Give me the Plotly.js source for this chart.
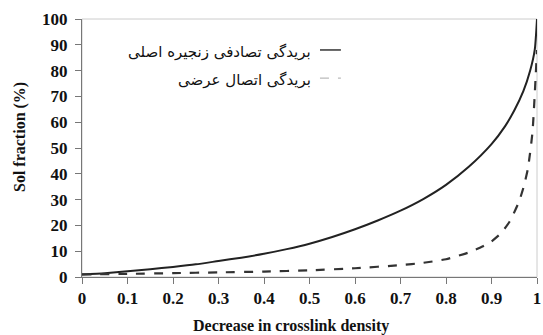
<!DOCTYPE html>
<html>
<head>
<meta charset="utf-8">
<script src="https://cdn.plot.ly/plotly-3.0.1.min.js"></script>
<style>html,body{margin:0;padding:0;background:#fff}#chart{width:543px;height:335px}</style>
</head>
<body>
<div id="chart"></div>
<script>
const xSolid = [0, 0.05, 0.1, 0.15, 0.2, 0.25, 0.3, 0.35, 0.4, 0.45, 0.5, 0.55, 0.6, 0.65, 0.7, 0.75, 0.8, 0.85, 0.9, 0.93, 0.95, 0.97, 0.985, 0.995, 1.0];
const ySolid = [1, 1.5, 2.2, 3, 3.9, 4.9, 6.2, 7.5, 9, 10.8, 12.9, 15.5, 18.5, 21.9, 25.7, 30.2, 35.7, 42.7, 51.5, 58.5, 64.5, 72, 80, 88, 100];
const xDashed = [0, 0.1, 0.2, 0.3, 0.4, 0.5, 0.6, 0.7, 0.75, 0.8, 0.85, 0.88, 0.9, 0.92, 0.94, 0.96, 0.97, 0.98, 0.99, 1.0];
const yDashed = [1, 1.2, 1.5, 1.8, 2.1, 2.6, 3.4, 4.6, 5.5, 6.9, 9.5, 11.8, 13.8, 16.8, 21.5, 29, 34.5, 42, 56, 88];
const legendLabels = ["بریدگی تصادفی زنجیره اصلی", "بریدگی اتصال عرضی"];
const xTickVals = [0, 0.1, 0.2, 0.3, 0.4, 0.5, 0.6, 0.7, 0.8, 0.9, 1];
const xTickText = ["0", "0.1", "0.2", "0.3", "0.4", "0.5", "0.6", "0.7", "0.8", "0.9", "1"];
const yTickVals = [0, 10, 20, 30, 40, 50, 60, 70, 80, 90, 100];
const yTickText = ["0", "10", "20", "30", "40", "50", "60", "70", "80", "90", "100"];
const xTitle = "Decrease in crosslink density";
const yTitle = "Sol fraction (%)";

const serif = "Liberation Serif, Times New Roman, serif";
const bold = s => "<b>" + s + "</b>";
const traces = [
  {x: xSolid, y: ySolid, mode: "lines", line: {color: "#222", width: 2, shape: "spline", smoothing: 0.6}, name: legendLabels[0], showlegend: false, cliponaxis: false},
  {x: xDashed, y: yDashed, mode: "lines", line: {color: "#333", width: 2.2, dash: "dash", shape: "spline", smoothing: 0.5}, name: legendLabels[1], showlegend: false, cliponaxis: false}
];
const tickFont = {family: serif, size: 17, color: "#111", weight: 700};
const layout = {
  width: 543, height: 335,
  margin: {l: 82, r: 6, t: 19, b: 58},
  paper_bgcolor: "#fff", plot_bgcolor: "#fff",
  showlegend: false,
  xaxis: {range: [0, 1], tickvals: xTickVals, ticktext: xTickText.map(bold), showgrid: false, zeroline: false,
    showline: true, linecolor: "#777", linewidth: 1, ticks: "outside", ticklen: 6, tickcolor: "#777",
    tickfont: tickFont},
  yaxis: {range: [0, 100], tickvals: yTickVals, ticktext: yTickText.map(bold), showgrid: false, zeroline: false,
    showline: true, linecolor: "#777", linewidth: 1, ticks: "outside", ticklen: 6, tickcolor: "#777",
    ticklabelstandoff: 4, tickfont: tickFont},
  shapes: [
    {type: "rect", xref: "paper", yref: "paper", x0: 0, x1: 1, y0: 0, y1: 1, line: {color: "#ccc", width: 1}, layer: "below"},
    {type: "line", xref: "x", yref: "y", x0: 0.523, x1: 0.569, y0: 88, y1: 88, line: {color: "#333", width: 1.5}},
    {type: "line", xref: "x", yref: "y", x0: 0.523, x1: 0.569, y0: 77.1, y1: 77.1, line: {color: "#bbb", width: 1.2, dash: "dash"}}
  ],
  annotations: [
    {xref: "x", yref: "y", x: 0.508, y: 87.2, xanchor: "right", yanchor: "middle", showarrow: false, text: legendLabels[0], font: {family: "DejaVu Sans, Noto Sans", size: 15, color: "#111"}},
    {xref: "x", yref: "y", x: 0.508, y: 76.4, xanchor: "right", yanchor: "middle", showarrow: false, text: legendLabels[1], font: {family: "DejaVu Sans, Noto Sans", size: 15, color: "#111"}},
    {xref: "paper", yref: "paper", x: (291 - 82) / 455, y: (277 - 326) / 258, xanchor: "center", yanchor: "middle", showarrow: false, text: bold(xTitle), font: {family: serif, size: 16, color: "#111", weight: 700}},
    {xref: "paper", yref: "paper", x: (20 - 82) / 455, y: (277 - 137) / 258, xanchor: "center", yanchor: "middle", textangle: -90, showarrow: false, text: bold(yTitle), font: {family: serif, size: 16, color: "#111", weight: 700}}
  ]
};
Plotly.newPlot("chart", traces, layout, {staticPlot: true, displayModeBar: false});
</script>
</body>
</html>
